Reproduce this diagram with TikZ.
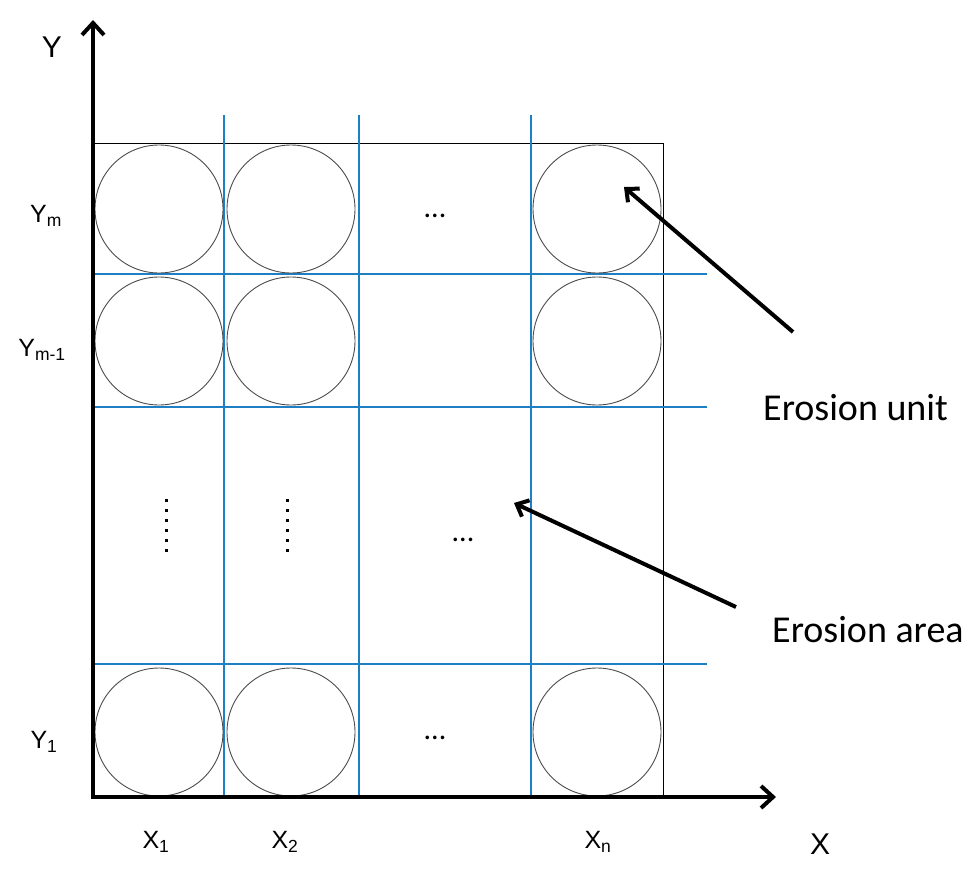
\documentclass[tikz,border=0pt]{standalone}
\usepackage{fontspec}
\setmainfont{Liberation Sans}
\newfontfamily\calfont{Carlito}
\usetikzlibrary{arrows.meta}
\definecolor{gridblue}{HTML}{1F7FC4}
\begin{document}
\begin{tikzpicture}[x=1pt,y=-1pt,
  cell/.style={circle, draw=black!70, line width=0.9pt, minimum size=128pt, inner sep=0pt},
  gridline/.style={gridblue, line width=2pt},
  axisline/.style={line width=4pt, -{Straight Barb[length=12pt,width=22pt]}},
  pointer/.style={line width=4pt, -{Straight Barb[length=10pt,width=18pt]}},
  axlab/.style={font=\fontsize{30}{34}\selectfont, inner sep=0pt},
  idxlab/.style={font=\fontsize{25}{29}\selectfont, inner sep=0pt},
  note/.style={font=\calfont\fontsize{38}{44}\selectfont, inner sep=0pt, anchor=west},
  dots/.style={font=\calfont\fontsize{30}{34}\selectfont, inner sep=0pt},
  vdots/.style={line width=3pt, dash pattern=on 3pt off 7pt}]
\useasboundingbox (0,0) rectangle (980,883);
% frame
\node[draw=black, line width=1pt, minimum width=570pt, minimum height=654pt, inner sep=0pt] (area) at (378,470) {};
% grid lines
\coordinate (v1t) at (224,115); \coordinate (v1b) at (224,797);
\coordinate (v2t) at (359,115); \coordinate (v2b) at (359,797);
\coordinate (v3t) at (531,115); \coordinate (v3b) at (531,797);
\coordinate (h1l) at (93,274); \coordinate (h1r) at (707,274);
\coordinate (h2l) at (93,407); \coordinate (h2r) at (707,407);
\coordinate (h3l) at (93,664); \coordinate (h3r) at (707,664);
\draw[gridline] (v1t) -- (v1b);
\draw[gridline] (v2t) -- (v2b);
\draw[gridline] (v3t) -- (v3b);
\draw[gridline] (h1l) -- (h1r);
\draw[gridline] (h2l) -- (h2r);
\draw[gridline] (h3l) -- (h3r);
% circles
\node[cell] (c1m) at (159,209) {};
\node[cell] (c2m) at (291,209) {};
\node[cell] (cnm) at (597,209) {};
\node[cell] (c1p) at (159,341) {};
\node[cell] (c2p) at (291,341) {};
\node[cell] (cnp) at (597,341) {};
\node[cell] (c11) at (159,732) {};
\node[cell] (c21) at (291,732) {};
\node[cell] (cn1) at (597,732) {};
% axes
\coordinate (o) at (93,797);
\coordinate (ytip) at (93,20);
\coordinate (xtip) at (776,797);
\draw[axisline] (o) -- (ytip);
\draw[axisline] ([xshift=-2pt]o) -- (xtip);
% ellipses
\node[dots] (d1) at (435,216) {...};
\node[dots] (d2) at (463,540) {...};
\node[dots] (d3) at (435,738) {...};
\coordinate (vd1t) at (166,499); \coordinate (vd1b) at (166,556);
\coordinate (vd2t) at (287,499); \coordinate (vd2b) at (287,556);
\draw[vdots] (vd1t) -- (vd1b);
\draw[vdots] (vd2t) -- (vd2b);
% labels
\node[axlab] (ylab) at (52,47) {Y};
\node[axlab] (xlab) at (820,844) {X};
\node[idxlab] (ym) at (46,216) {Y\textsubscript{m}};
\node[idxlab] (ym1) at (42,350) {Y\textsubscript{m-1}};
\node[idxlab] (y1) at (44,742) {Y\textsubscript{1}};
\node[idxlab] (x1) at (156,842) {X\textsubscript{1}};
\node[idxlab] (x2) at (285,842) {X\textsubscript{2}};
\node[idxlab] (xn) at (598,842) {X\textsubscript{n}};
\node[note] (eu) at (763,408) {Erosion unit};
\node[note] (ea) at (772,630) {Erosion area};
% pointers
\coordinate (eutail) at (793,332);
\coordinate (euhead) at (624,187);
\coordinate (eatail) at (736,607);
\coordinate (eahead) at (514,503);
\draw[pointer] (eutail) -- (euhead);
\draw[pointer] (eatail) -- (eahead);
\end{tikzpicture}
\end{document}
